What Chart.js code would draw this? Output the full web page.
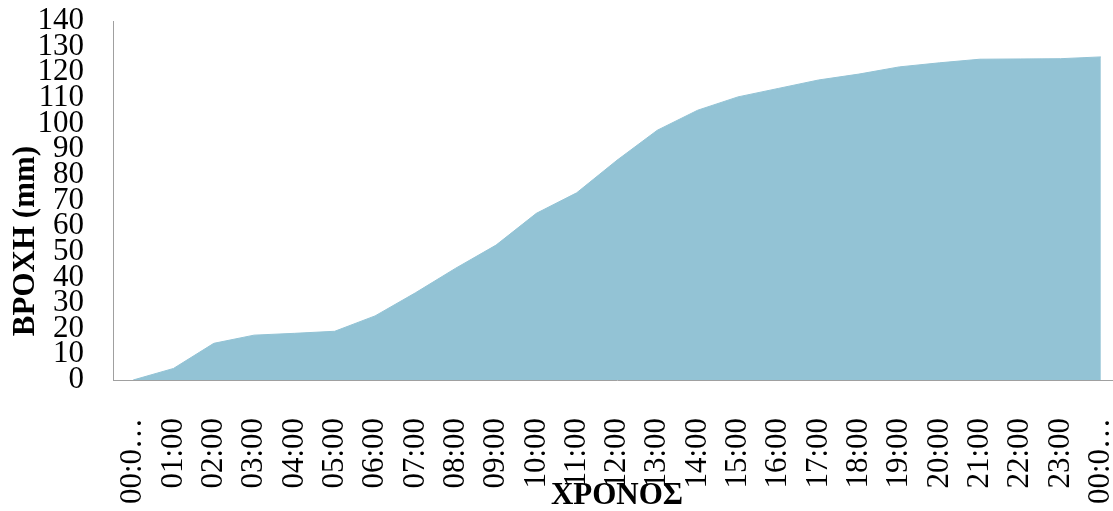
<!DOCTYPE html>
<html>
<head>
<meta charset="utf-8">
<script src="https://cdn.jsdelivr.net/npm/chart.js@4/dist/chart.umd.min.js"></script>
<style>
  html, body { margin: 0; padding: 0; background: #fff; overflow: hidden; }
  #wrap { width: 1113px; height: 511px; overflow: hidden; }
</style>
</head>
<body>
<div id="wrap"><canvas id="rainChart" width="1121" height="511"></canvas></div>
<script>
const hours = ["00:0…", "01:00", "02:00", "03:00", "04:00", "05:00", "06:00", "07:00", "08:00", "09:00",
  "10:00", "11:00", "12:00", "13:00", "14:00", "15:00", "16:00", "17:00", "18:00", "19:00",
  "20:00", "21:00", "22:00", "23:00", "00:0…"];
const rainfall = [0, 4.5, 14.3, 17.5, 18.2, 19, 25, 34, 43.6, 52.6,
  65, 73, 85.7, 97.4, 105.2, 110.4, 113.7, 117, 119.3, 122.1,
  123.7, 125.1, 125.2, 125.3, 126];
const yTitle = "ΒΡΟΧΗ (mm)";
const xTitle = "ΧΡΟΝΟΣ";

const serif = "'Liberation Serif', 'Times New Roman', serif";
const axisGray = "#a0a0a0";
const fillBlue = "#93c3d5";

// Excel-style axis titles: drawn by hand so they can sit where the original puts them
const axisTitles = {
  id: "axisTitles",
  afterDraw(chart) {
    const ctx = chart.ctx;
    ctx.save();
    ctx.fillStyle = "#000";
    ctx.font = "bold 31px " + serif;
    ctx.textAlign = "center";
    ctx.textBaseline = "alphabetic";

    ctx.translate(34, 241);
    ctx.rotate(-Math.PI / 2);
    ctx.fillText(yTitle, 0, 0);
    ctx.setTransform(1, 0, 0, 1, 0, 0);

    ctx.fillText(xTitle, 617, 504);
    ctx.restore();
  }
};

new Chart(document.getElementById("rainChart"), {
  type: "line",
  data: {
    labels: hours,
    datasets: [{
      data: rainfall,
      fill: "origin",
      backgroundColor: fillBlue,
      borderColor: fillBlue,
      borderWidth: 1,
      pointRadius: 0,
      tension: 0
    }]
  },
  options: {
    responsive: false,
    animation: false,
    layout: { padding: { top: 21, left: 0, right: 0, bottom: 0 } },
    plugins: {
      legend: { display: false },
      tooltip: { enabled: false }
    },
    scales: {
      x: {
        offset: true,
        grid: { display: false, drawTicks: false },
        border: { display: true, color: axisGray, width: 1 },
        ticks: {
          autoSkip: false,
          minRotation: 90,
          maxRotation: 90,
          padding: 38,
          color: "#000",
          font: { family: serif, size: 31 }
        },
        afterFit(scale) {
          scale.height = 131;
          scale.paddingLeft = 0;
          scale.paddingRight = 0;
        }
      },
      y: {
        min: 0,
        max: 140,
        grid: { display: false, drawTicks: false },
        border: { display: true, color: axisGray, width: 1 },
        ticks: {
          stepSize: 10,
          autoSkip: false,
          padding: 29,
          color: "#000",
          font: { family: serif, size: 31 }
        },
        afterFit(scale) {
          scale.width = 113;
          scale.paddingTop = 0;
          scale.paddingBottom = 0;
        }
      }
    }
  },
  plugins: [axisTitles]
});
</script>
</body>
</html>
